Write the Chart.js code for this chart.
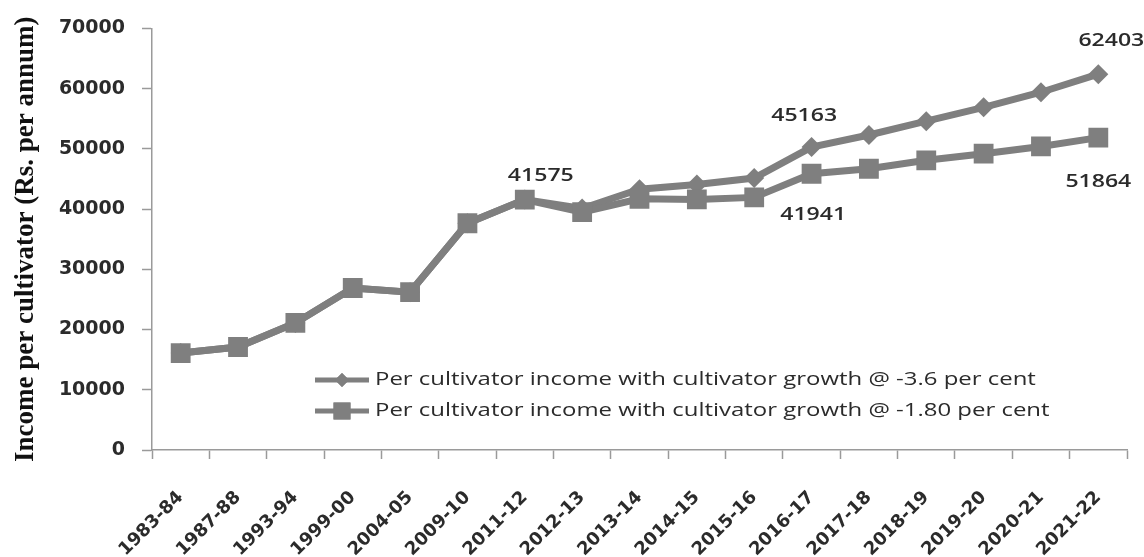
<!DOCTYPE html>
<html lang="en">
<head>
    <meta charset="UTF-8">
    <title>Per cultivator income</title>
    <script src="https://cdn.jsdelivr.net/npm/chart.js"></script>
    <style>
        body {
            margin: 0;
            background: #fff;
        }
        #wrap {
            width: 1144px;
            height: 557px;
        }
    </style>
</head>
<body>
    <div id="wrap">
        <canvas id="incomeChart" width="1144" height="557"></canvas>
    </div>

    <script>
        // data
        const years = ['1983-84', '1987-88', '1993-94', '1999-00', '2004-05', '2009-10', '2011-12', '2012-13',
            '2013-14', '2014-15', '2015-16', '2016-17', '2017-18', '2018-19', '2019-20', '2020-21', '2021-22'];
        const growth36 = [16100, 17100, 21100, 26900, 26200, 37650, 41575, 40100, 43300, 44100, 45163, 50300, 52300, 54600, 56900, 59400, 62403];
        const growth18 = [16100, 17100, 21100, 26900, 26200, 37650, 41575, 39500, 41700, 41600, 41941, 45870, 46700, 48100, 49200, 50400, 51864];
        const yTicks = [0, 10000, 20000, 30000, 40000, 50000, 60000, 70000];
        const seriesNames = [
            'Per cultivator income with cultivator growth @ -3.6 per cent',
            'Per cultivator income with cultivator growth @ -1.80 per cent'
        ];

        const grey = '#7f7f7f';
        const textCol = '#2b2b2b';
        const stretch = 1.33; // the original text is drawn wide

        // which points carry a value label, and where the label sits
        const callouts = [
            { ds: 1, idx: 6, dx: 16, dy: -24 },
            { ds: 0, idx: 10, dx: 50, dy: -62 },
            { ds: 1, idx: 10, dx: 59, dy: 17 },
            { ds: 0, idx: 16, dx: 13, dy: -33 },
            { ds: 1, idx: 16, dx: 0, dy: 44 }
        ];

        // draw text with the wide look of the original
        function wideText(ctx, txt, x, y, align, k) {
            ctx.save();
            ctx.translate(x, y);
            ctx.scale(k, 1);
            ctx.textAlign = align;
            ctx.textBaseline = 'middle';
            ctx.fillText(txt, 0, 0);
            ctx.restore();
        }

        const calloutPlugin = {
            id: 'callouts',
            afterDatasetsDraw(chart) {
                const ctx = chart.ctx;
                ctx.save();
                ctx.font = '600 18px "Open Sans"';
                ctx.fillStyle = textCol;
                callouts.forEach(c => {
                    const pt = chart.getDatasetMeta(c.ds).data[c.idx];
                    const val = chart.data.datasets[c.ds].data[c.idx];
                    wideText(ctx, String(val), pt.x + c.dx, pt.y + c.dy, 'center', 1.28);
                });
                ctx.restore();
            }
        };

        // legend drawn inside the plot, like the original
        const legendPlugin = {
            id: 'innerLegend',
            afterDraw(chart) {
                const ctx = chart.ctx;
                const rows = [
                    { y: 380, style: 'rectRot', r: 7 },
                    { y: 411, style: 'rect', r: 12 }
                ];
                ctx.save();
                rows.forEach((row, i) => {
                    ctx.strokeStyle = grey;
                    ctx.lineWidth = 5;
                    ctx.beginPath();
                    ctx.moveTo(315, row.y);
                    ctx.lineTo(369, row.y);
                    ctx.stroke();
                    ctx.fillStyle = grey;
                    Chart.helpers.drawPoint(ctx, { pointStyle: row.style, radius: row.r, borderWidth: 0, rotation: 0 }, 342, row.y);
                    ctx.fill();
                    ctx.fillStyle = textCol;
                    ctx.font = '18px "Open Sans"';
                    wideText(ctx, seriesNames[i], 375, row.y, 'left', stretch);
                });
                ctx.restore();
            }
        };

        const ctx = document.getElementById('incomeChart').getContext('2d');
        const incomeChart = new Chart(ctx, {
            type: 'line',
            data: {
                labels: years,
                datasets: [{
                    label: seriesNames[0],
                    data: growth36,
                    borderColor: grey,
                    backgroundColor: grey,
                    borderWidth: 7,
                    pointStyle: 'rectRot',
                    pointRadius: 10,
                    pointBorderWidth: 0,
                    tension: 0,
                    order: 1
                }, {
                    label: seriesNames[1],
                    data: growth18,
                    borderColor: grey,
                    backgroundColor: grey,
                    borderWidth: 7,
                    pointStyle: 'rect',
                    pointRadius: 14,
                    pointBorderWidth: 0,
                    tension: 0,
                    order: 0
                }]
            },
            options: {
                responsive: false,
                animation: false,
                layout: {
                    padding: { top: 28, right: 17, left: 0, bottom: 0 }
                },
                plugins: {
                    legend: { display: false },
                    tooltip: { enabled: false }
                },
                scales: {
                    x: {
                        offset: true,
                        afterFit(scale) { scale.height = 107; },
                        border: { color: '#9a9a9a', width: 1.5 },
                        grid: { offset: true, drawOnChartArea: false, tickLength: 9, color: '#9a9a9a', tickWidth: 1.5 },
                        ticks: {
                            minRotation: 45,
                            maxRotation: 45,
                            padding: 28,
                            color: textCol,
                            font: { family: '"DejaVu Sans"', size: 18, weight: 'bold' }
                        }
                    },
                    y: {
                        min: 0,
                        max: 70000,
                        afterFit(scale) { scale.width = 152; },
                        afterBuildTicks(scale) { scale.ticks = yTicks.map(v => ({ value: v })); },
                        border: { color: '#9a9a9a', width: 1.5 },
                        grid: { drawOnChartArea: false, tickLength: 10, color: '#9a9a9a', tickWidth: 1.5 },
                        ticks: {
                            padding: 17,
                            color: textCol,
                            font: { family: '"DejaVu Sans"', size: 19, weight: 'bold' },
                            callback: v => String(v)
                        },
                        title: {
                            display: true,
                            text: 'Income per cultivator (Rs. per annum)',
                            color: '#111',
                            padding: { top: 10, bottom: 0 },
                            font: { family: '"Liberation Serif"', size: 27, weight: 'bold' }
                        }
                    }
                }
            },
            plugins: [calloutPlugin, legendPlugin]
        });
    </script>
</body>
</html>
